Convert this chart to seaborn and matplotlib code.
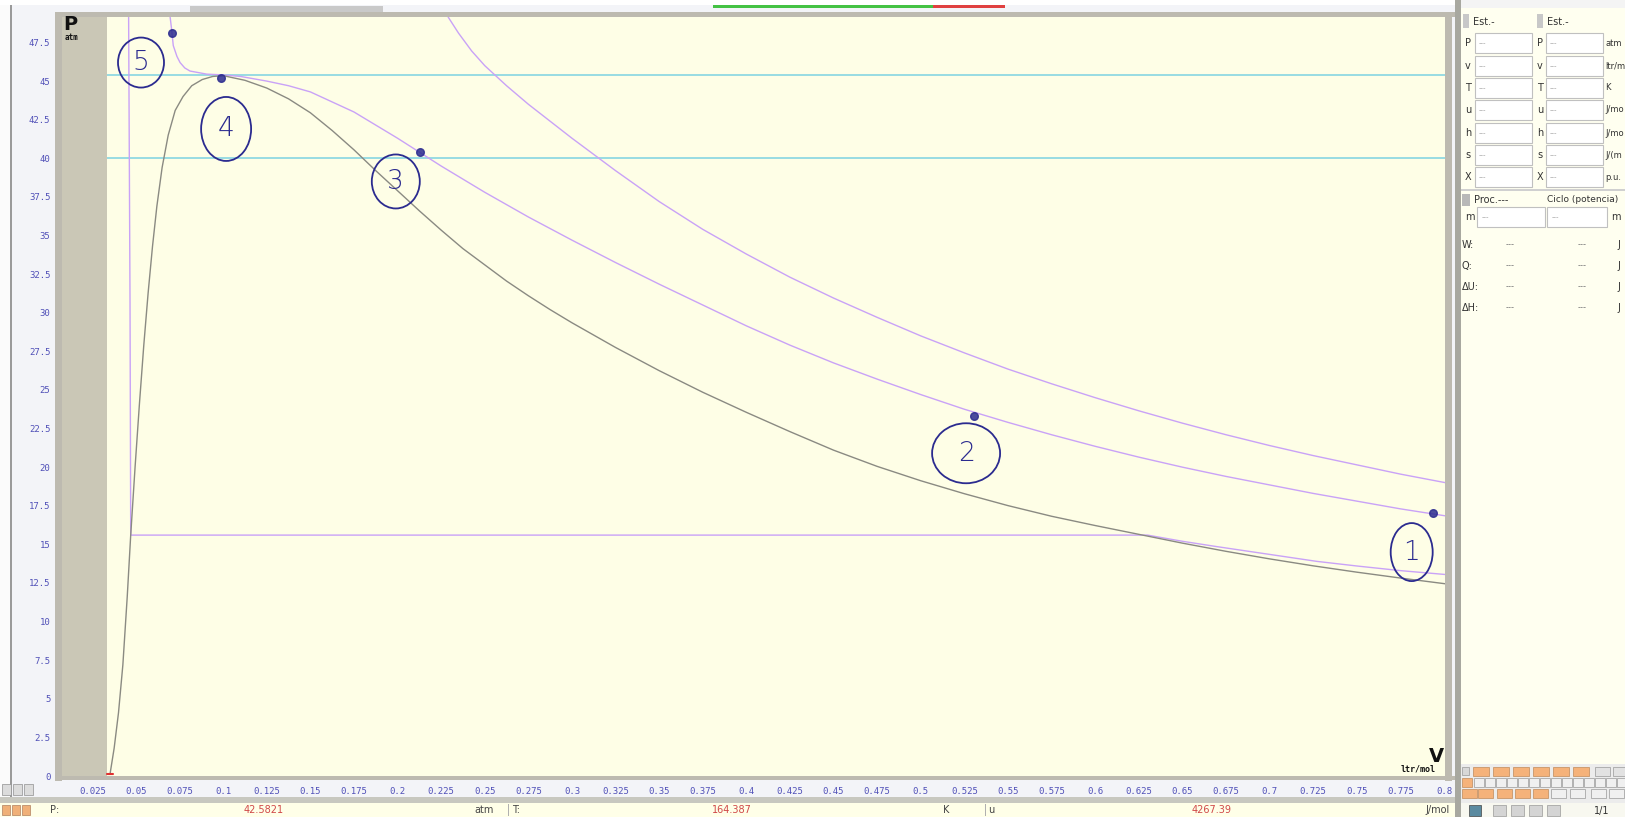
import matplotlib
matplotlib.use("Agg")
import matplotlib.pyplot as plt
from matplotlib.patches import Rectangle, Ellipse
import pandas as pd
import seaborn as sns

# --- curves (v in ltr/mol, P in atm) ---
sat_v = [0.0352, 0.0375, 0.04, 0.0425, 0.045, 0.047, 0.0495, 0.052, 0.0545, 0.057,
         0.0595, 0.062, 0.065, 0.0685, 0.0725, 0.077, 0.082, 0.088, 0.094, 0.1001,
         0.1125, 0.125, 0.1375, 0.15, 0.1625, 0.175, 0.1875, 0.2, 0.2125, 0.225,
         0.2375, 0.25, 0.2625, 0.275, 0.2875, 0.3, 0.325, 0.35, 0.375, 0.4,
         0.425, 0.45, 0.475, 0.5, 0.525, 0.55, 0.575, 0.6, 0.625, 0.65,
         0.675, 0.7, 0.725, 0.75, 0.775, 0.8006]
sat_p = [0.17, 1.8, 4.1, 7.2, 11.6, 15.6, 20.0, 24.1, 27.9, 31.3,
         34.3, 36.9, 39.4, 41.5, 43.1, 44.0, 44.7, 45.1, 45.3, 45.35,
         45.05, 44.55, 43.85, 42.95, 41.8, 40.55, 39.2, 37.9, 36.6, 35.35,
         34.15, 33.1, 32.05, 31.1, 30.2, 29.35, 27.75, 26.25, 24.85, 23.55,
         22.3, 21.1, 20.05, 19.12, 18.28, 17.51, 16.82, 16.22, 15.65, 15.08,
         14.55, 14.06, 13.61, 13.2, 12.82, 12.45]

crit_v = [0.0696, 0.0705, 0.0714, 0.0735, 0.0753, 0.078, 0.081, 0.0906, 0.1, 0.11,
          0.125, 0.1375, 0.15, 0.175, 0.2, 0.225, 0.25, 0.275, 0.3, 0.325,
          0.35, 0.375, 0.4, 0.425, 0.45, 0.475, 0.5, 0.525, 0.55, 0.575,
          0.6, 0.625, 0.65, 0.675, 0.7, 0.725, 0.75, 0.775, 0.8006]
crit_p = [49.15, 48.3, 47.3, 46.6, 46.2, 45.85, 45.65, 45.45, 45.4, 45.3,
          45.0, 44.7, 44.3, 43.0, 41.3, 39.5, 37.8, 36.2, 34.7, 33.25,
          31.85, 30.5, 29.15, 27.9, 26.75, 25.7, 24.7, 23.75, 22.9, 22.1,
          21.35, 20.65, 20.0, 19.4, 18.85, 18.3, 17.8, 17.3, 16.85]

upper_v = [0.229, 0.235, 0.2425, 0.25, 0.2625, 0.275, 0.3, 0.325, 0.35, 0.375,
           0.4, 0.425, 0.45, 0.475, 0.5, 0.525, 0.55, 0.575, 0.6, 0.625,
           0.65, 0.675, 0.7, 0.725, 0.75, 0.775, 0.8006]
upper_p = [49.15, 48.1, 46.95, 46.0, 44.7, 43.5, 41.3, 39.2, 37.2, 35.4,
           33.8, 32.3, 30.95, 29.7, 28.5, 27.4, 26.35, 25.4, 24.5, 23.65,
           22.85, 22.1, 21.4, 20.75, 20.15, 19.55, 19.0]

lower_v = [0.0458, 0.0466, 0.047, 0.63, 0.65, 0.67, 0.7, 0.727, 0.75, 0.775, 0.8006]
lower_p = [49.15, 30.8, 15.6, 15.6, 15.2, 14.85, 14.35, 13.9, 13.6, 13.3, 13.05]

isobar_p = [45.4, 40.0]

x_tick_vals = [0.025, 0.05, 0.075, 0.1, 0.125, 0.15, 0.175, 0.2, 0.225, 0.25, 0.275, 0.3,
               0.325, 0.35, 0.375, 0.4, 0.425, 0.45, 0.475, 0.5, 0.525, 0.55, 0.575, 0.6,
               0.625, 0.65, 0.675, 0.7, 0.725, 0.75, 0.775, 0.8]
x_tick_labels = ["0.025", "0.05", "0.075", "0.1", "0.125", "0.15", "0.175", "0.2", "0.225",
                 "0.25", "0.275", "0.3", "0.325", "0.35", "0.375", "0.4", "0.425", "0.45",
                 "0.475", "0.5", "0.525", "0.55", "0.575", "0.6", "0.625", "0.65", "0.675",
                 "0.7", "0.725", "0.75", "0.775", "0.8"]
y_tick_vals = [0, 2.5, 5, 7.5, 10, 12.5, 15, 17.5, 20, 22.5, 25, 27.5, 30, 32.5, 35, 37.5,
               40, 42.5, 45, 47.5]
y_tick_labels = ["0", "2.5", "5", "7.5", "10", "12.5", "15", "17.5", "20", "22.5", "25",
                 "27.5", "30", "32.5", "35", "37.5", "40", "42.5", "45", "47.5"]

# hand-drawn state marks
state_labels = ["1", "2", "3", "4", "5"]
state_v = [0.7815, 0.526, 0.199, 0.1017, 0.0529]
state_p = [14.5, 20.9, 38.5, 41.9, 46.2]
tip_v = [0.7938, 0.5306, 0.2127, 0.0988, 0.0707]
tip_p = [17.0, 23.3, 40.4, 45.2, 48.1]

W, H = 1625, 817
XLIM = (0.0076, 0.8006)
YLIM = (0.0, 49.15)
CREAM = "#fefee6"
FRAME = "#bdbab0"
INK = "#2b2b8f"
PURPLE = "#c9a2f7"
CYAN = "#86d6e2"
TICK = "#5050b8"


def fx(px):
    return px / W


def fy(py):
    return 1 - py / H


def frect(fig, x0, y0, x1, y1, color, ec="none", lw=0, z=1):
    fig.add_artist(Rectangle((fx(x0), fy(y1)), fx(x1) - fx(x0), fy(y0) - fy(y1),
                             transform=fig.transFigure, facecolor=color,
                             edgecolor=ec, linewidth=lw, zorder=z))


sns.set_theme(style="white")
plt.rcParams["font.family"] = ["DejaVu Sans"]

fig = plt.figure(figsize=(W / 100, H / 100), dpi=100, facecolor="#f3f4f8")
ax_l, ax_r, ax_t, ax_b = 62, 1445, 17, 776
ax = fig.add_axes([fx(ax_l), fy(ax_b), fx(ax_r) - fx(ax_l), fy(ax_t) - fy(ax_b)])
ax.set_facecolor(CREAM)

curves = pd.concat([
    pd.DataFrame({"v": crit_v, "P": crit_p, "curve": "crit"}),
    pd.DataFrame({"v": upper_v, "P": upper_p, "curve": "upper"}),
    pd.DataFrame({"v": lower_v, "P": lower_p, "curve": "lower"}),
    pd.DataFrame({"v": sat_v, "P": sat_p, "curve": "sat"}),
])
palette = {"sat": "#8a8a82", "crit": PURPLE, "upper": PURPLE, "lower": PURPLE}

for p in isobar_p:
    ax.axhline(p, color=CYAN, lw=1.2, zorder=1)
ax.axvspan(XLIM[0], 0.0333, color="#cac7b6", zorder=3, lw=0)

sns.lineplot(data=curves, x="v", y="P", hue="curve", palette=palette, sort=False,
             estimator=None, units="curve", legend=False, lw=1.0, ax=ax, zorder=2)
ax.plot([0.0335, 0.037], [0.12, 0.12], color="#e03030", lw=1.5, zorder=4)

ax.set_xlim(*XLIM)
ax.set_ylim(*YLIM)
ax.set_xticks(x_tick_vals)
ax.set_xticklabels(x_tick_labels)
ax.set_yticks(y_tick_vals)
ax.set_yticklabels(y_tick_labels)
ax.tick_params(axis="both", colors=TICK, labelsize=6.5, direction="out")
ax.tick_params(axis="x", length=6.3, width=0.8, pad=1.5)
ax.tick_params(axis="y", length=6.3, width=0.8, pad=2)
for lab in ax.get_xticklabels() + ax.get_yticklabels():
    lab.set_fontfamily("DejaVu Sans Mono")
ax.set_xlabel("")
ax.set_ylabel("")
for s in ax.spines.values():
    s.set_visible(False)

# hand-drawn circles and state numbers
px_v = (XLIM[1] - XLIM[0]) / (ax_r - ax_l)
px_p = (YLIM[1] - YLIM[0]) / (ax_b - ax_t)
circle_px = [(42, 58), (68, 60), (48, 54), (50, 64), (46, 50)]
for lab, v, p, tv, tp, (cw, ch) in zip(state_labels, state_v, state_p, tip_v, tip_p, circle_px):
    ax.add_patch(Ellipse((v, p), cw * px_v, ch * px_p, fill=False, ec=INK, lw=1.3, zorder=5))
    ax.text(v, p, lab, color=INK, fontsize=19, ha="center", va="center",
            fontweight="light", zorder=5)
    ax.plot([tv], [tp], marker="o", ms=5.5, color=INK, mec=INK, alpha=0.85, zorder=5)

fig.text(fx(70), fy(24), "P", fontsize=14, fontweight="bold", color="#111",
         ha="center", va="center")
fig.text(fx(72), fy(38), "atm", fontsize=5.5, fontweight="bold", color="#111",
         ha="center", va="center", family="DejaVu Sans Mono")
fig.text(fx(1436), fy(757), "V", fontsize=14, fontweight="bold", color="#111",
         ha="center", va="center")
fig.text(fx(1418), fy(769), "ltr/mol", fontsize=6, fontweight="bold", color="#111",
         ha="center", va="center", family="DejaVu Sans Mono")

# plot frame bands
frect(fig, 55, 12, 62, 781, FRAME)
frect(fig, 55, 12, 1460, 17, FRAME)
frect(fig, 55, 776, 1460, 780, FRAME)
frect(fig, 1445, 12, 1452, 781, FRAME)
frect(fig, 1455, 0, 1461, 817, "#a8a8a0")
frect(fig, 0, 0, 10, 817, "#fbfbfb")
frect(fig, 10, 5, 12, 805, "#9a9a9a")
frect(fig, 0, 797, 1455, 803, "#c8c8c0")
frect(fig, 0, 803, 1455, 817, "#ffffe8")

# top strip decorations
frect(fig, 0, 0, 1455, 5, "white")
frect(fig, 190, 6, 383, 12, "#c9c9c9")
frect(fig, 713, 5, 933, 8, "#44c244")
frect(fig, 933, 5, 1005, 8, "#e04040")

# zoom icons bottom-left
for x0 in [2, 13, 24]:
    frect(fig, x0, 784, x0 + 9, 795, "#dcdcdc", ec="#909090", lw=0.5)

# status bar
for x0 in [2, 12, 22]:
    frect(fig, x0, 805, x0 + 8, 815, "#f0b078", ec="#b08060", lw=0.5)
status = [(50, "P:", "#444444", "left"), (264, "42.5821", "#d04848", "center"),
          (484, "atm", "#444444", "center"), (512, "T:", "#444444", "left"),
          (732, "164.387", "#d04848", "center"), (946, "K", "#444444", "center"),
          (988, "u", "#444444", "left"), (1212, "4267.39", "#d04848", "center"),
          (1438, "J/mol", "#444444", "center")]
for x0, s, c, ha in status:
    fig.text(fx(x0), fy(810), s, fontsize=7, color=c, ha=ha, va="center")
for x0 in [508, 985]:
    frect(fig, x0, 804, x0 + 1, 816, "#b0b0b0")

# right-hand panel
frect(fig, 1461, 0, 1625, 817, "#fffff0", z=1)
frect(fig, 1461, 0, 1625, 8, "#f4f4f4", z=1)
for x0, lbl in [(1473, "Est.-"), (1547, "Est.-")]:
    frect(fig, x0 - 10, 14, x0 - 4, 28, "#c8c8c8")
    fig.text(fx(x0), fy(22), lbl, fontsize=7, color="#333", ha="left", va="center")
rows = ["P", "v", "T", "u", "h", "s", "X"]
row_y = [43, 66, 88, 110, 133, 155, 177]
units = ["atm", "ltr/m", "K", "J/mo", "J/mo", "J/(m", "p.u."]
for r, yy, u in zip(rows, row_y, units):
    for lx, bx0, bx1 in [(1465, 1475, 1532), (1537, 1546, 1603)]:
        fig.text(fx(lx), fy(yy), r, fontsize=7, color="#333", ha="left", va="center")
        frect(fig, bx0, yy - 10, bx1, yy + 10, "white", ec="#c0c0c0", lw=0.8)
        fig.text(fx(bx0 + 4), fy(yy), "---", fontsize=5, color="#999", ha="left", va="center")
    fig.text(fx(1605), fy(yy), u, fontsize=6, color="#333", ha="left", va="center")
frect(fig, 1461, 189, 1625, 191, "#d0d0d0")
frect(fig, 1462, 194, 1470, 206, "#b8b8b8")
fig.text(fx(1474), fy(200), "Proc.---", fontsize=7, color="#333", ha="left", va="center")
fig.text(fx(1547), fy(200), "Ciclo (potencia)", fontsize=6.5, color="#333", ha="left", va="center")
fig.text(fx(1465), fy(217), "m", fontsize=7, color="#333", ha="left", va="center")
for bx0, bx1 in [(1477, 1545), (1547, 1607)]:
    frect(fig, bx0, 207, bx1, 227, "white", ec="#c0c0c0", lw=0.8)
    fig.text(fx(bx0 + 5), fy(217), "---", fontsize=5, color="#999", ha="left", va="center")
fig.text(fx(1611), fy(217), "m", fontsize=7, color="#333", ha="left", va="center")
for lbl, yy in [("W:", 245), ("Q:", 266), ("ΔU:", 287), ("ΔH:", 308)]:
    fig.text(fx(1462), fy(yy), lbl, fontsize=7, color="#333", ha="left", va="center")
    fig.text(fx(1510), fy(yy), "---", fontsize=6, color="#777", ha="center", va="center")
    fig.text(fx(1582), fy(yy), "---", fontsize=6, color="#777", ha="center", va="center")
    fig.text(fx(1617), fy(yy), "J", fontsize=7, color="#333", ha="left", va="center")

# toolbar buttons, bottom right
frect(fig, 1461, 764, 1625, 803, "#ececec")
frect(fig, 1462, 767, 1469, 775, "#d8d8d8", ec="#999", lw=0.5)
for x0 in [1473, 1493, 1513, 1533, 1553, 1573]:
    frect(fig, x0, 767, x0 + 16, 776, "#f5b27a", ec="#c08a5a", lw=0.5)
for x0 in [1595, 1613]:
    frect(fig, x0, 767, x0 + 15, 776, "#e2e2e2", ec="#999", lw=0.5)
frect(fig, 1462, 778, 1472, 787, "#f5b27a", ec="#c08a5a", lw=0.5)
for x0 in range(1474, 1625, 11):
    frect(fig, x0, 778, x0 + 10, 787, "#f0f0f0", ec="#999", lw=0.5)
for x0 in [1462, 1478, 1497, 1515, 1533]:
    frect(fig, x0, 789, x0 + 15, 798, "#f5b27a", ec="#c08a5a", lw=0.5)
for x0 in [1551, 1570, 1591, 1609]:
    frect(fig, x0, 789, x0 + 15, 798, "#f0f0f0", ec="#999", lw=0.5)
frect(fig, 1461, 803, 1625, 817, "#f8f8f0")
frect(fig, 1469, 805, 1481, 816, "#5a8aa0", ec="#444", lw=0.5)
for x0 in [1493, 1511, 1529, 1547]:
    frect(fig, x0, 805, x0 + 13, 816, "#d4d4d4", ec="#999", lw=0.5)
fig.text(fx(1602), fy(811), "1/1", fontsize=7, color="#333", ha="center", va="center")

fig.savefig("out.png", dpi=100, facecolor=fig.get_facecolor())
